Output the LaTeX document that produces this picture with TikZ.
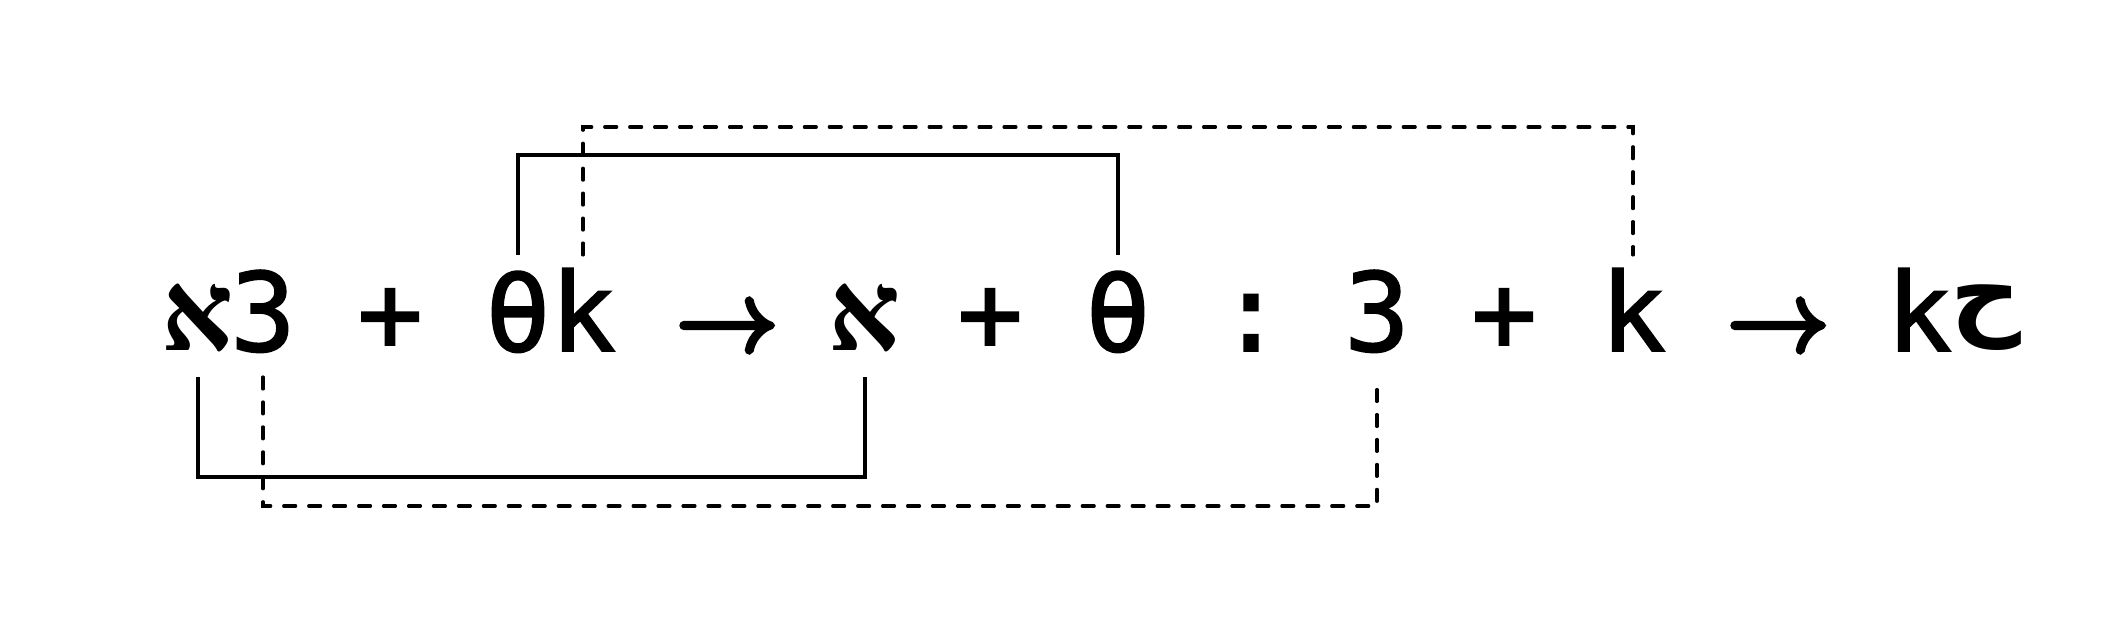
\documentclass[tikz,border=0pt]{standalone}
\usepackage{fontspec}
\newfontfamily\monofont{DejaVu Sans Mono}
\newfontfamily\hebrewfont[Script=Hebrew]{Liberation Serif}
\newfontfamily\arrowfont{Latin Modern Math}
\newfontfamily\arabicfont[Script=Arabic]{DejaVu Sans}
\TeXXeTstate=1
\newcommand\heavyon[1]{\special{pdf:literal direct 2 Tr #1 w}}
\newcommand\heavyoff{\special{pdf:literal direct 0 Tr}}
\tikzset{
  glyph/.style={inner sep=0pt, anchor=base, font=\monofont\fontsize{31}{36}\selectfont,
    execute at begin node=\heavyon{0.5}, execute at end node=\heavyoff},
  alephglyph/.style={inner sep=0pt, anchor=base, font=\hebrewfont\bfseries\fontsize{32}{38}\selectfont},
  arrowglyph/.style={inner sep=0pt, anchor=base, font=\arrowfont\fontsize{29}{35}\selectfont,
    execute at begin node=\heavyon{1.4}, execute at end node=\heavyoff},
  link/.style={line width=0.9pt},
  dashlink/.style={line width=0.9pt, line cap=round, dash pattern=on 3.4pt off 3.7pt},
}

\begin{document}
\begin{tikzpicture}
				\useasboundingbox (0, 0) rectangle (21.05, 6.33);
				\node[alephglyph] (aleph1) at (1.98, 2.82) {\beginR א\endR};
				\node[glyph] (three1) at (2.63, 2.82) {3};
				\node[glyph] (plus1) at (3.90, 2.82) {+};
				\node[glyph] (theta1) at (5.18, 2.82) {θ};
				\node[glyph] (k1) at (5.83, 2.82) {k};
				\node[arrowglyph] (to1) at (7.27, 2.82) {→};
				\node[alephglyph] (aleph2) at (8.65, 2.82) {\beginR א\endR};
				\node[glyph] (plus2) at (9.90, 2.82) {+};
				\node[glyph] (theta2) at (11.18, 2.82) {θ};
				\node[glyph] (colon) at (12.51, 2.82) {:};
				\node[glyph] (three2) at (13.77, 2.82) {3};
				\node[glyph] (plus3) at (15.04, 2.82) {+};
				\node[glyph] (k2) at (16.33, 2.82) {k};
				\node[arrowglyph] (to2) at (17.78, 2.82) {→};
				\node[glyph] (k3) at (19.19, 2.82) {k};
				\node[inner sep=0pt, anchor=south west, font=\arabicfont\bfseries\fontsize{28}{34}\selectfont] (hah) at (19.50, 2.82) {\beginR ح\endR};
				\draw[link] ([yshift=0.96cm]theta1.base) -- ++(0, 1) -| ([yshift=0.96cm]theta2.base);
				\draw[dashlink] ([yshift=0.96cm]k1.base) -- ++(0, 1.28) -| ([yshift=0.96cm]k2.base);
				\draw[link] ([yshift=-0.26cm]aleph1.base) -- ++(0, -1) -| ([yshift=-0.26cm]aleph2.base);
				\draw[dashlink] ([yshift=-0.26cm]three1.base) -- ++(0, -1.29) -| ([yshift=-0.38cm]three2.base);
			\end{tikzpicture}
\end{document}
